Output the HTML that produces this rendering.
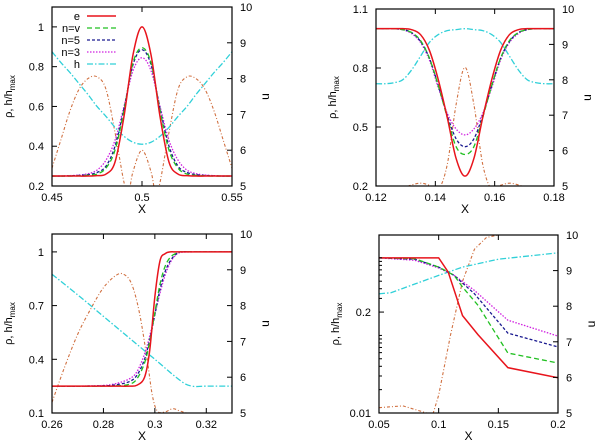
<!DOCTYPE html>
<html><head><meta charset="utf-8"><style>
body{margin:0;background:#fff;}
svg{display:block;font-family:"Liberation Sans",sans-serif;}
</style></head><body>
<svg id="c" width="600" height="445" viewBox="0 0 600 445"></svg>
<script>
// ---------- Panel 1 data ----------
const p1X = [0.45,0.455,0.46,0.465,0.47,0.475,0.48,0.485,0.49,0.495,0.5,0.505,0.51,0.515,0.52,0.525,0.53,0.535,0.54,0.545,0.55];
const p1E = [0.25,0.25,0.25,0.25,0.25,0.252,0.26,0.32,0.55,0.86,1.0,0.86,0.55,0.32,0.26,0.252,0.25,0.25,0.25,0.25,0.25];
const p1NV = [0.25,0.25,0.25,0.251,0.254,0.26,0.29,0.38,0.58,0.82,0.895,0.82,0.58,0.38,0.29,0.26,0.254,0.251,0.25,0.25,0.25];
const p1N5 = [0.25,0.25,0.251,0.253,0.257,0.268,0.30,0.40,0.59,0.81,0.885,0.81,0.59,0.40,0.30,0.268,0.257,0.253,0.251,0.25,0.25];
const p1N3 = [0.25,0.25,0.252,0.255,0.262,0.28,0.33,0.43,0.60,0.78,0.845,0.78,0.60,0.43,0.33,0.28,0.262,0.255,0.252,0.25,0.25];
const p1H = [0.875,0.82,0.77,0.715,0.66,0.60,0.55,0.495,0.45,0.42,0.41,0.42,0.45,0.495,0.55,0.60,0.66,0.715,0.77,0.82,0.875];
const p1UX = [0.45,0.455,0.46,0.465,0.47,0.475,0.48,0.485,0.49,0.4925,0.495,0.5,0.505,0.5075,0.51,0.515,0.52,0.525,0.53,0.535,0.54,0.545,0.55];
const p1U = [5.5,6.3,7.1,7.7,8.0,8.05,7.7,6.5,5.1,4.8,5.4,6.0,5.4,4.8,5.1,6.5,7.7,8.05,8.0,7.7,7.1,6.3,5.5];
// ---------- Panel 2 data ----------
const p2X = [0.12,0.123,0.126,0.129,0.132,0.135,0.138,0.141,0.144,0.147,0.15,0.153,0.156,0.159,0.162,0.165,0.168,0.171,0.174,0.177,0.18];
const p2E = [1,1,1,1,0.995,0.97,0.89,0.74,0.55,0.34,0.25,0.34,0.55,0.74,0.89,0.97,0.995,1,1,1,1];
const p2NV = [1,1,1,0.995,0.98,0.94,0.85,0.71,0.55,0.40,0.36,0.40,0.55,0.71,0.85,0.94,0.98,0.995,1,1,1];
const p2N5 = [1,1,1,0.995,0.98,0.935,0.85,0.71,0.56,0.44,0.40,0.44,0.56,0.71,0.85,0.935,0.98,0.995,1,1,1];
const p2N3 = [1,1,1,0.995,0.975,0.93,0.84,0.70,0.57,0.49,0.46,0.49,0.57,0.70,0.84,0.93,0.975,0.995,1,1,1];
const p2H = [0.72,0.72,0.725,0.74,0.79,0.86,0.93,0.97,0.99,0.995,1.0,0.995,0.99,0.97,0.93,0.86,0.79,0.74,0.725,0.72,0.72];
const p2U = [4.9,4.92,4.95,4.95,5.03,5.08,5.02,4.9,5.6,7.3,8.35,7.3,5.6,4.9,5.02,5.08,5.03,4.95,4.95,4.92,4.9];
// ---------- Panel 3 data ----------
const p3X = [0.26,0.27,0.28,0.285,0.29,0.293,0.296,0.298,0.3,0.302,0.304,0.306,0.308,0.31,0.315,0.32,0.33];
const p3E = [0.25,0.25,0.25,0.25,0.25,0.255,0.30,0.45,0.75,0.95,0.99,1,1,1,1,1,1];
const p3NV = [0.25,0.25,0.25,0.252,0.26,0.29,0.38,0.50,0.66,0.82,0.92,0.97,0.99,1,1,1,1];
const p3N5 = [0.25,0.25,0.252,0.258,0.275,0.31,0.40,0.51,0.65,0.79,0.89,0.95,0.985,1,1,1,1];
const p3N3 = [0.25,0.25,0.254,0.265,0.29,0.33,0.43,0.53,0.65,0.77,0.87,0.94,0.98,0.997,1,1,1];
const p3HX = [0.26,0.27,0.28,0.29,0.30,0.31,0.3145,0.32,0.33];
const p3H = [0.875,0.76,0.64,0.52,0.40,0.28,0.25,0.25,0.25];
const p3UX = [0.26,0.265,0.27,0.275,0.28,0.285,0.288,0.291,0.294,0.297,0.299,0.301,0.304,0.307,0.31,0.315,0.33];
const p3U = [5.3,6.3,7.2,7.9,8.5,8.85,8.87,8.6,7.8,6.5,5.5,5.05,5.03,5.12,5.05,4.97,4.9];
// ---------- Panel 4 data ----------
const p4EX = [0.05,0.1,0.108,0.12,0.133,0.158,0.2];
const p4E = [1.0,1.0,0.656,0.18,0.102,0.0384,0.0285];
const p4NX = [0.05,0.08,0.1,0.113,0.12,0.133,0.158,0.2];
const p4NV = [1.0,0.975,0.76,0.594,0.42,0.244,0.0593,0.0441];
const p4N5X = [0.05,0.08,0.1,0.113,0.13,0.158,0.2];
const p4N5 = [1.0,0.96,0.76,0.594,0.344,0.107,0.071];
const p4N3 = [1.0,0.93,0.74,0.594,0.38,0.157,0.098];
const p4HX = [0.05,0.06,0.08,0.1,0.12,0.15,0.2];
const p4H = [0.344,0.355,0.46,0.594,0.76,0.96,1.16];
const p4UX = [0.05,0.07,0.09,0.095,0.1,0.11,0.12,0.13,0.14,0.15,0.2];
const p4U = [5.15,5.2,5.0,4.95,5.5,7.2,8.7,9.6,9.93,10.0,10.05];
// ---------- Ticks ----------
const p1XTicks = [0.45,0.5,0.55], p1XLabels = ["0.45","0.5","0.55"];
const p1YTicks = [0.2,0.4,0.6,0.8,1.0], p1YLabels = ["0.2","0.4","0.6","0.8","1"];
const p2XTicks = [0.12,0.14,0.16,0.18], p2XLabels = ["0.12","0.14","0.16","0.18"];
const p2YTicks = [0.2,0.5,0.8,1.1], p2YLabels = ["0.2","0.5","0.8","1.1"];
const p3XTicks = [0.26,0.28,0.3,0.32], p3XLabels = ["0.26","0.28","0.3","0.32"];
const p3YTicks = [0.1,0.4,0.7,1.0], p3YLabels = ["0.1","0.4","0.7","1"];
const p4XTicks = [0.05,0.1,0.15,0.2], p4XLabels = ["0.05","0.1","0.15","0.2"];
const p4YTicks = [0.01,0.2], p4YLabels = ["0.01","0.2"];
const p4YMinor = [0.02,0.03,0.04,0.05,0.06,0.07,0.08,0.09,0.1,0.3,0.4,0.5,0.6,0.7,0.8,0.9,1];
const uTicks = [5,6,7,8,9,10], uLabels = ["5","6","7","8","9","10"];
const legendLabels = ["e","n=v","n=5","n=3","h"];

const NS="http://www.w3.org/2000/svg";
const svg=document.getElementById('c');
function mk(tag,attrs,parent){const e=document.createElementNS(NS,tag);for(const k in attrs)e.setAttribute(k,attrs[k]);(parent||svg).appendChild(e);return e;}
const ST={
 e:{stroke:"#e8141c",dash:"",w:1.5},
 nv:{stroke:"#20c020",dash:"5,3",w:1.3},
 n5:{stroke:"#1a1a90",dash:"3,2",w:1.3},
 n3:{stroke:"#d020e0",dash:"1.5,1.5",w:1.3},
 h:{stroke:"#30d0d8",dash:"6,2,1.5,2",w:1.3},
 u:{stroke:"#d07040",dash:"3,2,1,2",w:1.1}
};
function pathD(pts,smooth){
 if(!smooth){return pts.map((p,i)=>(i?"L":"M")+p[0].toFixed(2)+","+p[1].toFixed(2)).join("");}
 let d="M"+pts[0][0]+","+pts[0][1];
 for(let i=0;i<pts.length-1;i++){
  const p0=pts[Math.max(0,i-1)],p1=pts[i],p2=pts[i+1],p3=pts[Math.min(pts.length-1,i+2)];
  const c1=[p1[0]+(p2[0]-p0[0])/6,p1[1]+(p2[1]-p0[1])/6];
  const c2=[p2[0]-(p3[0]-p1[0])/6,p2[1]-(p3[1]-p1[1])/6];
  d+="C"+c1[0].toFixed(2)+","+c1[1].toFixed(2)+" "+c2[0].toFixed(2)+","+c2[1].toFixed(2)+" "+p2[0].toFixed(2)+","+p2[1].toFixed(2);
 }
 return d;
}
function panel(cfg){
 const g=mk('g',{});
 
 
 const {x0,x1,y0,y1,xmin,xmax,ymin,ymax,log}=cfg;
 const sx=v=>x0+(v-xmin)/(xmax-xmin)*(x1-x0);
 const sy=log?(v=>y1-(Math.log10(v)-Math.log10(ymin))/(Math.log10(ymax)-Math.log10(ymin))*(y1-y0))
             :(v=>y1-(v-ymin)/(ymax-ymin)*(y1-y0));
 const su=v=>y1-(v-5)/5*(y1-y0);
 const cid='clip'+cfg.name;
 const cp=mk('clipPath',{id:cid},g);mk('rect',{x:x0,y:y0,width:x1-x0,height:y1-y0},cp);
 const lg=mk('g',{'clip-path':'url(#'+cid+')'},g);
 function series(xs,ys,scale,st,name){
  const pts=xs.map((x,i)=>[sx(x),scale(ys[i])]);
  const p=mk('path',{d:pathD(pts,!cfg.linear),fill:"none",stroke:st.stroke,'stroke-width':st.w,'stroke-dasharray':st.dash},lg);
  
  
 }
 cfg.series.forEach(s=>series(s.x,s.y,s.u?su:sy,ST[s.st],s.name));
 // frame
 const fr=mk('rect',{x:x0,y:y0,width:x1-x0,height:y1-y0,fill:"none",stroke:"#000","stroke-width":1.2},g);
 
 
 cfg.xt.forEach((v,i)=>{
  const X=sx(v);
  mk('line',{x1:X,x2:X,y1:y1,y2:y1-5,stroke:"#000"},g);
  mk('line',{x1:X,x2:X,y1:y0,y2:y0+5,stroke:"#000"},g);
  const t=mk('text',{x:X,y:y1+15,'text-anchor':'middle','font-size':11},g);t.textContent=cfg.xl[i];
  
  
 });
 cfg.yt.forEach((v,i)=>{
  const Y=sy(v);
  mk('line',{x1:x0,x2:x0+5,y1:Y,y2:Y,stroke:"#000"},g);
  const t=mk('text',{x:x0-8,y:Y+4,'text-anchor':'end','font-size':11},g);t.textContent=cfg.yl[i];
  
  
 });
 (cfg.minor||[]).forEach(v=>{const Y=sy(v);mk('line',{x1:x0,x2:x0+3,y1:Y,y2:Y,stroke:"#000"},g);});
 uTicks.forEach((v,i)=>{
  const Y=su(v);
  mk('line',{x1:x1,x2:x1-5,y1:Y,y2:Y,stroke:"#000"},g);
  const t=mk('text',{x:x1+8,y:Y+4,'text-anchor':'start','font-size':11},g);t.textContent=uLabels[i];
  
  
 });
 const xl=mk('text',{x:(x0+x1)/2,y:y1+27,'text-anchor':'middle','font-size':12},g);xl.textContent="X";
 
 
 const cy=(y0+y1)/2;
 const yl=mk('text',{x:x0-40,y:cy,'text-anchor':'middle','font-size':11,transform:`rotate(-90 ${x0-40} ${cy})`},g);
 yl.innerHTML='ρ, h/h<tspan font-size="8" dy="3">max</tspan>';
 
 
 const ul=mk('text',{x:x1+37,y:cy,'text-anchor':'middle','font-size':12,transform:`rotate(-90 ${x1+37} ${cy})`},g);ul.textContent="u";
 
 
 return g;
}
panel({name:"panel-peak",x0:52,x1:232,y0:7,y1:186,xmin:0.45,xmax:0.55,ymin:0.2,ymax:1.1,xt:p1XTicks,xl:p1XLabels,yt:p1YTicks,yl:p1YLabels,
 series:[{x:p1UX,y:p1U,u:1,st:"u",name:"u-line"},{x:p1X,y:p1H,st:"h",name:"h-line"},{x:p1X,y:p1N3,st:"n3",name:"n3-line"},{x:p1X,y:p1N5,st:"n5",name:"n5-line"},{x:p1X,y:p1NV,st:"nv",name:"nv-line"},{x:p1X,y:p1E,st:"e",name:"e-line"}]});
panel({name:"panel-dip",x0:376,x1:554,y0:9,y1:186,xmin:0.12,xmax:0.18,ymin:0.2,ymax:1.1,xt:p2XTicks,xl:p2XLabels,yt:p2YTicks,yl:p2YLabels,
 series:[{x:p2X,y:p2U,u:1,st:"u",name:"u-line"},{x:p2X,y:p2H,st:"h",name:"h-line"},{x:p2X,y:p2N3,st:"n3",name:"n3-line"},{x:p2X,y:p2N5,st:"n5",name:"n5-line"},{x:p2X,y:p2NV,st:"nv",name:"nv-line"},{x:p2X,y:p2E,st:"e",name:"e-line"}]});
panel({name:"panel-shock",x0:52,x1:232,y0:234,y1:413,xmin:0.26,xmax:0.33,ymin:0.1,ymax:1.1,xt:p3XTicks,xl:p3XLabels,yt:p3YTicks,yl:p3YLabels,
 series:[{x:p3UX,y:p3U,u:1,st:"u",name:"u-line"},{x:p3HX,y:p3H,st:"h",name:"h-line"},{x:p3X,y:p3N3,st:"n3",name:"n3-line"},{x:p3X,y:p3N5,st:"n5",name:"n5-line"},{x:p3X,y:p3NV,st:"nv",name:"nv-line"},{x:p3X,y:p3E,st:"e",name:"e-line"}]});
panel({name:"panel-log",x0:379,x1:558,y0:235,y1:413,xmin:0.05,xmax:0.2,ymin:0.01,ymax:1.97,log:1,linear:1,xt:p4XTicks,xl:p4XLabels,yt:p4YTicks,yl:p4YLabels,minor:p4YMinor,
 series:[{x:p4UX,y:p4U,u:1,st:"u",name:"u-line"},{x:p4HX,y:p4H,st:"h",name:"h-line"},{x:p4N5X,y:p4N3,st:"n3",name:"n3-line"},{x:p4N5X,y:p4N5,st:"n5",name:"n5-line"},{x:p4NX,y:p4NV,st:"nv",name:"nv-line"},{x:p4EX,y:p4E,st:"e",name:"e-line"}]});
// legend
const lgG=mk('g',{});


const lgKeys=["e","nv","n5","n3","h"];
legendLabels.forEach((lab,i)=>{
 const y=16+i*12;
 const t=mk('text',{x:80,y:y+4,'text-anchor':'end','font-size':11},lgG);t.textContent=lab;
 
 
 const s=ST[lgKeys[i]];
 mk('line',{x1:87,x2:116,y1:y,y2:y,stroke:s.stroke,'stroke-width':s.w,'stroke-dasharray':s.dash},lgG);
});
</script>
</body></html>
